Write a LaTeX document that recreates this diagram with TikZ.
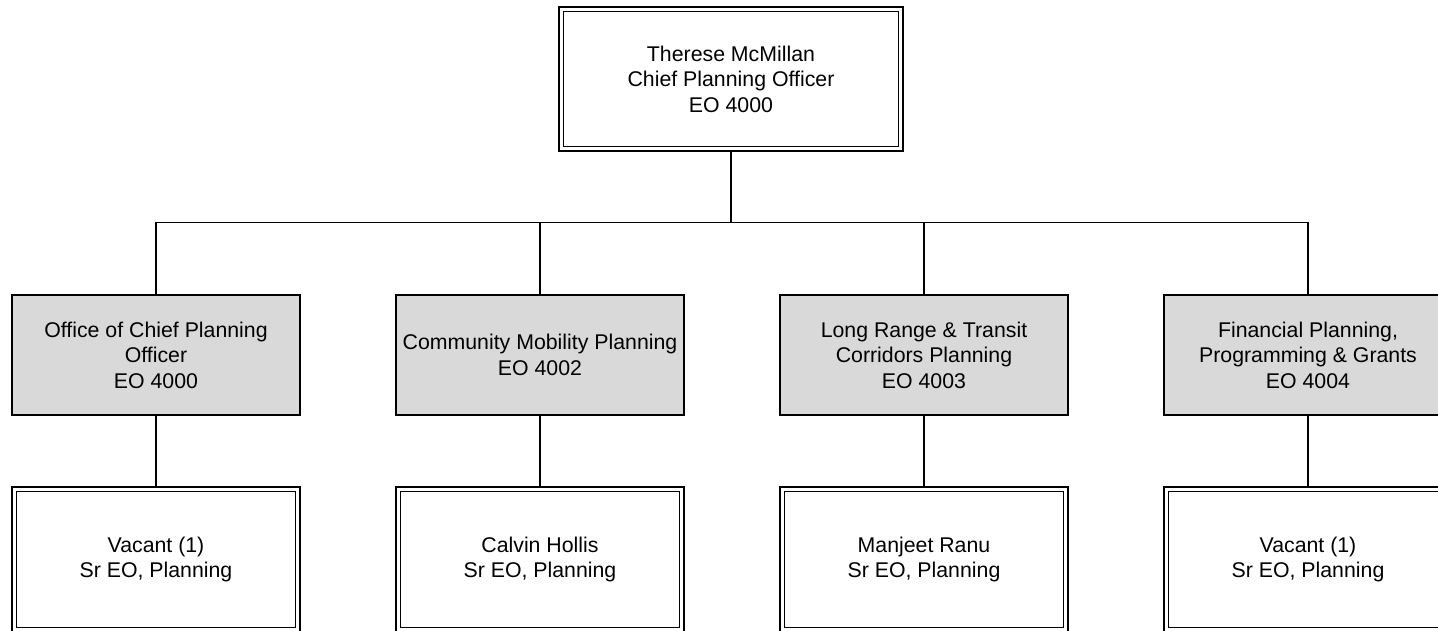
\documentclass[tikz,border=0pt]{standalone}
\usepackage{fontspec}
\setmainfont{Liberation Sans}
\usepackage{tikz}
\usetikzlibrary{backgrounds}
\newcommand{\orgfont}{\fontsize{21.3}{25.5}\selectfont}

\begin{document}
\begin{tikzpicture}[
    x=1pt, y=-1pt,
    conn/.style={draw=black, line width=1.6pt},
    division/.style={draw=black, fill=black!15, line width=1.8pt, minimum width=288pt, minimum height=120pt, inner sep=0pt, align=center, font=\orgfont},
    post/.style={draw=black, double=white, line width=1.5pt, double distance=3pt, fill=white, minimum width=283.5pt, minimum height=140.5pt, inner sep=0pt, align=center, font=\orgfont}
]
\useasboundingbox (0,0) rectangle (1438,630);
\clip (0,0) rectangle (1438,630);

\node[post, minimum width=339.5pt, minimum height=139.5pt] (chief) at (731,79) {Therese McMillan\\Chief Planning Officer\\EO 4000};

\node[division] (div1) at (156,355) {Office of Chief Planning\\Officer\\EO 4000};
\node[division] (div2) at (540,355) {Community Mobility Planning\\EO 4002};
\node[division] (div3) at (924,355) {Long Range \& Transit\\Corridors Planning\\EO 4003};
\node[division] (div4) at (1308,355) {Financial Planning,\\Programming \& Grants\\EO 4004};

\node[post] (sr1) at (156,559.5) {Vacant (1)\\Sr EO, Planning};
\node[post] (sr2) at (540,559.5) {Calvin Hollis\\Sr EO, Planning};
\node[post] (sr3) at (924,559.5) {Manjeet Ranu\\Sr EO, Planning};
\node[post] (sr4) at (1308,559.5) {Vacant (1)\\Sr EO, Planning};

\coordinate (bus) at (731,222.5);

\begin{scope}[on background layer]
\draw[conn] (chief.south) -- (bus);
\foreach \i in {1,...,4}
  \draw[conn] (bus) -| (div\i.north);
\foreach \i in {1,...,4}
  \draw[conn] (div\i.south) -- (sr\i.north);
\end{scope}
\end{tikzpicture}
\end{document}
